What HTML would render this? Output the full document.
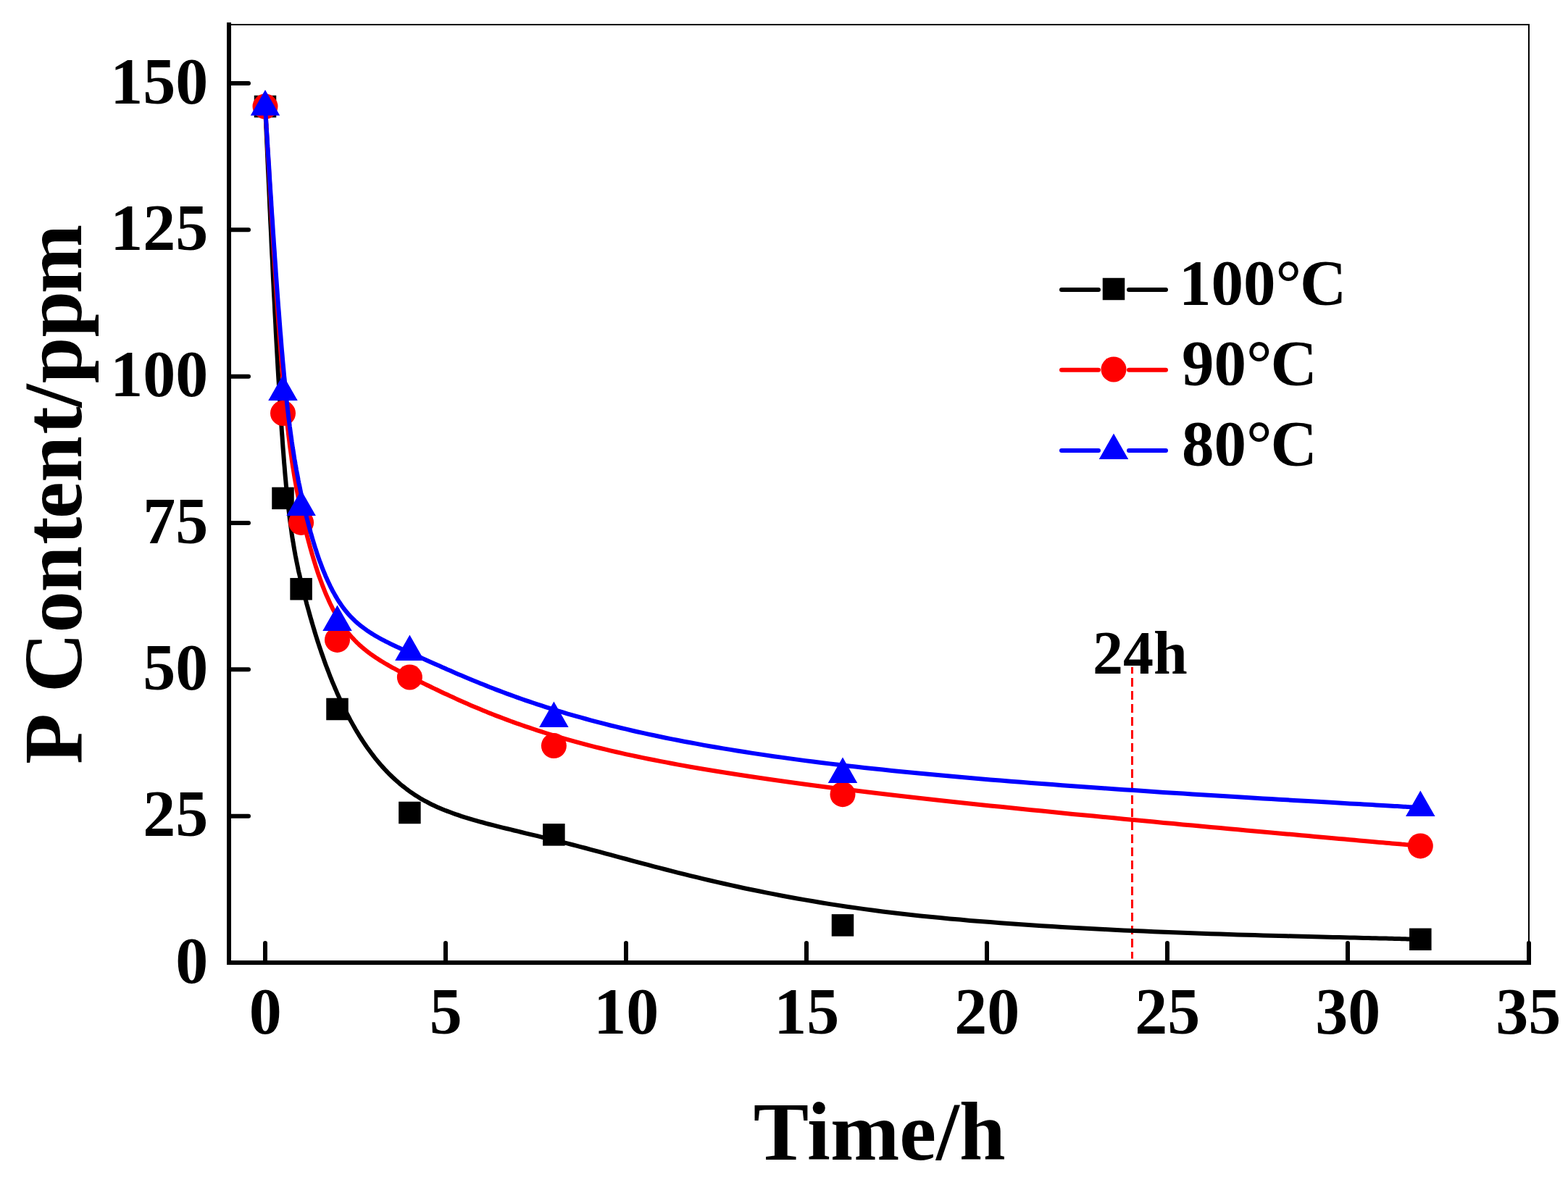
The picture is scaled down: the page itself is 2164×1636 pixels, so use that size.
<!DOCTYPE html>
<html lang="en"><head><meta charset="utf-8"><title>P Content vs Time</title>
<style>html,body{margin:0;padding:0;background:#fff;overflow:hidden;}svg{display:block;}text{font-family:"Liberation Serif",serif;font-weight:bold;fill:#000;}</style>
</head><body>
<svg width="2164" height="1636" viewBox="0 0 2164 1636">
<rect x="0" y="0" width="2164" height="1636" fill="#fff"/>
<g stroke="#000" stroke-width="2" fill="none" shape-rendering="crispEdges">
<line x1="316" y1="34" x2="2111" y2="34"/>
<line x1="2110" y1="34" x2="2110" y2="1329"/>
</g>
<line x1="1562.5" y1="921" x2="1562.5" y2="1323.5" stroke="#f00" stroke-width="3" stroke-dasharray="12 6" stroke-dashoffset="3"/>
<g fill="none" stroke-width="6" stroke-linejoin="round" stroke-linecap="round">
<path d="M366.0 147.0 L366.0 147.0 L366.0 147.0 L366.0 147.0 L366.0 147.1 L366.0 147.1 L366.0 147.2 L366.0 147.3 L366.0 147.5 L366.0 147.7 L366.0 147.9 L366.1 148.2 L366.1 148.5 L366.1 149.0 L366.1 149.5 L366.1 150.0 L366.2 150.7 L366.2 151.4 L366.2 152.2 L366.3 153.1 L366.3 154.1 L366.4 155.3 L366.4 156.5 L366.5 157.9 L366.6 159.4 L366.6 161.0 L366.7 162.7 L366.8 164.6 L366.9 166.6 L367.0 168.8 L367.1 171.1 L367.2 173.6 L367.3 176.3 L367.5 179.1 L367.6 182.1 L367.7 185.3 L367.9 188.7 L368.0 192.3 L368.2 196.0 L368.4 200.0 L368.6 204.2 L368.8 208.6 L369.0 213.2 L369.2 218.0 L369.4 223.1 L369.7 228.4 L369.9 234.0 L370.2 239.8 L370.5 245.8 L370.8 252.1 L371.1 258.6 L371.4 265.3 L371.7 272.2 L372.0 279.3 L372.3 286.7 L372.7 294.2 L373.0 301.8 L373.4 309.6 L373.8 317.6 L374.2 325.7 L374.5 334.0 L374.9 342.3 L375.3 350.8 L375.8 359.4 L376.2 368.1 L376.6 376.8 L377.0 385.7 L377.5 394.6 L377.9 403.5 L378.4 412.5 L378.9 421.6 L379.3 430.6 L379.8 439.7 L380.3 448.8 L380.7 457.9 L381.2 467.0 L381.7 476.0 L382.2 485.1 L382.7 494.1 L383.2 503.0 L383.7 511.9 L384.2 520.7 L384.8 529.5 L385.3 538.1 L385.8 546.7 L386.3 555.1 L386.8 563.5 L387.4 571.7 L387.9 579.8 L388.4 587.7 L388.9 595.5 L389.5 603.1 L390.0 610.6 L390.5 617.8 L391.1 624.9 L391.6 631.8 L392.1 638.5 L392.7 645.1 L393.2 651.4 L393.7 657.6 L394.3 663.6 L394.8 669.5 L395.4 675.2 L395.9 680.7 L396.5 686.1 L397.0 691.4 L397.6 696.5 L398.1 701.5 L398.7 706.4 L399.3 711.1 L399.8 715.8 L400.4 720.3 L401.0 724.7 L401.6 728.9 L402.2 733.1 L402.7 737.2 L403.3 741.2 L403.9 745.1 L404.6 748.9 L405.2 752.7 L405.8 756.3 L406.4 759.9 L407.1 763.5 L407.7 767.0 L408.4 770.4 L409.0 773.7 L409.7 777.0 L410.4 780.3 L411.1 783.6 L411.7 786.8 L412.4 789.9 L413.2 793.1 L413.9 796.2 L414.6 799.3 L415.3 802.4 L416.1 805.5 L416.9 808.6 L417.6 811.7 L418.4 814.8 L419.2 817.9 L420.0 821.0 L420.8 824.1 L421.6 827.3 L422.5 830.5 L423.3 833.7 L424.2 836.9 L425.1 840.1 L426.0 843.3 L426.9 846.6 L427.8 849.9 L428.7 853.1 L429.7 856.4 L430.6 859.7 L431.6 863.0 L432.6 866.4 L433.6 869.7 L434.6 873.1 L435.6 876.4 L436.7 879.8 L437.7 883.1 L438.8 886.5 L439.9 889.9 L441.0 893.3 L442.2 896.7 L443.3 900.1 L444.5 903.4 L445.7 906.8 L446.9 910.2 L448.1 913.7 L449.3 917.1 L450.6 920.5 L451.9 923.9 L453.2 927.3 L454.5 930.7 L455.8 934.1 L457.2 937.5 L458.5 940.9 L459.9 944.2 L461.4 947.6 L462.8 951.0 L464.3 954.4 L465.7 957.8 L467.2 961.1 L468.8 964.5 L470.3 967.8 L471.9 971.1 L473.5 974.5 L475.1 977.8 L476.7 981.1 L478.4 984.4 L480.1 987.6 L481.8 990.9 L483.5 994.2 L485.3 997.4 L487.1 1000.6 L488.9 1003.8 L490.7 1007.0 L492.6 1010.1 L494.5 1013.3 L496.4 1016.4 L498.4 1019.5 L500.4 1022.6 L502.4 1025.6 L504.5 1028.7 L506.5 1031.7 L508.6 1034.6 L510.8 1037.6 L513.0 1040.5 L515.2 1043.4 L517.4 1046.3 L519.7 1049.1 L522.0 1051.9 L524.4 1054.7 L526.7 1057.4 L529.2 1060.1 L531.6 1062.7 L534.1 1065.4 L536.6 1068.0 L539.2 1070.5 L541.8 1073.0 L544.5 1075.5 L547.1 1077.9 L549.9 1080.3 L552.6 1082.7 L555.4 1085.0 L558.3 1087.2 L561.2 1089.5 L564.1 1091.6 L567.1 1093.8 L570.1 1095.8 L573.2 1097.9 L576.3 1099.8 L579.4 1101.8 L582.6 1103.6 L585.9 1105.5 L589.2 1107.2 L592.5 1109.0 L595.9 1110.7 L599.3 1112.3 L602.8 1113.9 L606.4 1115.5 L609.9 1117.0 L613.6 1118.5 L617.3 1119.9 L621.1 1121.3 L624.9 1122.7 L628.7 1124.1 L632.7 1125.4 L636.7 1126.8 L640.7 1128.1 L644.8 1129.3 L649.0 1130.6 L653.2 1131.9 L657.6 1133.1 L661.9 1134.3 L666.4 1135.5 L670.9 1136.8 L675.4 1138.0 L680.1 1139.2 L684.8 1140.4 L689.6 1141.6 L694.5 1142.8 L699.4 1144.0 L704.4 1145.2 L709.5 1146.5 L714.6 1147.7 L719.9 1149.0 L725.2 1150.3 L730.6 1151.6 L736.1 1152.9 L741.6 1154.2 L747.3 1155.6 L753.0 1157.0 L758.8 1158.4 L764.7 1159.8 L770.7 1161.3 L776.8 1162.8 L782.9 1164.4 L789.2 1166.0 L795.5 1167.6 L802.0 1169.3 L808.5 1171.0 L815.1 1172.8 L821.8 1174.6 L828.7 1176.4 L835.6 1178.3 L842.6 1180.2 L849.7 1182.1 L857.0 1184.1 L864.3 1186.0 L871.8 1188.1 L879.3 1190.1 L887.0 1192.1 L894.8 1194.2 L902.7 1196.3 L910.8 1198.4 L918.9 1200.5 L927.2 1202.6 L935.7 1204.8 L944.2 1206.9 L952.9 1209.1 L961.7 1211.2 L970.6 1213.4 L979.7 1215.5 L988.9 1217.7 L998.3 1219.8 L1007.8 1221.9 L1017.4 1224.0 L1027.2 1226.2 L1037.2 1228.3 L1047.3 1230.3 L1057.5 1232.4 L1067.9 1234.4 L1078.5 1236.5 L1089.2 1238.5 L1100.1 1240.5 L1111.1 1242.4 L1122.3 1244.3 L1133.7 1246.2 L1145.2 1248.1 L1156.9 1249.9 L1168.8 1251.7 L1180.9 1253.4 L1193.1 1255.1 L1205.5 1256.8 L1218.1 1258.4 L1230.9 1260.0 L1243.8 1261.5 L1257.0 1263.0 L1270.2 1264.4 L1283.7 1265.8 L1297.2 1267.1 L1310.9 1268.4 L1324.7 1269.6 L1338.6 1270.9 L1352.6 1272.0 L1366.7 1273.1 L1380.8 1274.2 L1395.0 1275.3 L1409.2 1276.3 L1423.5 1277.2 L1437.7 1278.2 L1452.0 1279.1 L1466.3 1279.9 L1480.5 1280.7 L1494.7 1281.5 L1508.9 1282.3 L1523.0 1283.0 L1537.1 1283.7 L1551.0 1284.4 L1564.9 1285.0 L1578.7 1285.6 L1592.4 1286.2 L1605.9 1286.8 L1619.3 1287.3 L1632.6 1287.8 L1645.7 1288.3 L1658.6 1288.8 L1671.3 1289.2 L1683.8 1289.6 L1696.2 1290.0 L1708.3 1290.4 L1720.2 1290.7 L1731.8 1291.1 L1743.2 1291.4 L1754.3 1291.7 L1765.1 1292.0 L1775.7 1292.3 L1785.9 1292.5 L1795.8 1292.8 L1805.4 1293.0 L1814.7 1293.3 L1823.6 1293.5 L1832.1 1293.7 L1840.3 1293.9 L1848.1 1294.1 L1855.6 1294.3 L1862.7 1294.4 L1869.5 1294.6 L1876.0 1294.7 L1882.2 1294.9 L1888.0 1295.0 L1893.6 1295.2 L1898.9 1295.3 L1903.8 1295.4 L1908.5 1295.5 L1913.0 1295.6 L1917.1 1295.8 L1921.1 1295.8 L1924.7 1295.9 L1928.2 1296.0 L1931.4 1296.1 L1934.4 1296.2 L1937.2 1296.2 L1939.7 1296.3 L1942.1 1296.4 L1944.3 1296.4 L1946.3 1296.5 L1948.1 1296.5 L1949.8 1296.5 L1951.3 1296.6 L1952.6 1296.6 L1953.8 1296.6 L1954.9 1296.7 L1955.9 1296.7 L1956.7 1296.7 L1957.4 1296.7 L1958.0 1296.7 L1958.5 1296.8 L1959.0 1296.8 L1959.3 1296.8 L1959.6 1296.8 L1959.8 1296.8 L1960.0 1296.8 L1960.1 1296.8 L1960.2 1296.8 L1960.3 1296.8 L1960.3 1296.8 L1960.3 1296.8 L1960.3 1296.8" stroke="#000"/>
<g fill="#000" stroke="none"><rect x="350.75" y="131.75" width="30.5" height="30.5"/><rect x="375.25" y="672.65" width="30.5" height="30.5"/><rect x="400.35" y="797.95" width="30.5" height="30.5"/><rect x="450.25" y="963.75" width="30.5" height="30.5"/><rect x="550.15" y="1106.75" width="30.5" height="30.5"/><rect x="749.15" y="1137.15" width="30.5" height="30.5"/><rect x="1147.75" y="1262.15" width="30.5" height="30.5"/><rect x="1945.05" y="1281.55" width="30.5" height="30.5"/></g>
<path d="M366.0 147.0 L366.0 147.0 L366.0 147.0 L366.0 147.0 L366.0 147.0 L366.0 147.1 L366.0 147.2 L366.0 147.2 L366.0 147.4 L366.0 147.5 L366.0 147.7 L366.1 147.9 L366.1 148.2 L366.1 148.5 L366.1 148.9 L366.1 149.4 L366.2 149.9 L366.2 150.4 L366.2 151.1 L366.3 151.8 L366.3 152.6 L366.4 153.5 L366.4 154.4 L366.5 155.5 L366.6 156.7 L366.6 157.9 L366.7 159.3 L366.8 160.8 L366.9 162.4 L367.0 164.1 L367.1 165.9 L367.2 167.8 L367.3 169.9 L367.5 172.1 L367.6 174.5 L367.7 177.0 L367.9 179.6 L368.0 182.4 L368.2 185.4 L368.4 188.5 L368.6 191.8 L368.8 195.2 L369.0 198.8 L369.2 202.6 L369.4 206.6 L369.7 210.7 L369.9 215.1 L370.2 219.6 L370.5 224.4 L370.8 229.3 L371.1 234.4 L371.4 239.6 L371.7 245.1 L372.0 250.6 L372.3 256.4 L372.7 262.3 L373.0 268.3 L373.4 274.4 L373.8 280.7 L374.2 287.1 L374.5 293.6 L374.9 300.2 L375.3 306.9 L375.8 313.7 L376.2 320.6 L376.6 327.5 L377.0 334.5 L377.5 341.6 L377.9 348.7 L378.4 355.9 L378.9 363.1 L379.3 370.3 L379.8 377.6 L380.3 384.9 L380.7 392.2 L381.2 399.5 L381.7 406.9 L382.2 414.2 L382.7 421.5 L383.2 428.7 L383.7 436.0 L384.2 443.2 L384.8 450.3 L385.3 457.5 L385.8 464.5 L386.3 471.5 L386.8 478.4 L387.4 485.3 L387.9 492.0 L388.4 498.7 L388.9 505.3 L389.5 511.8 L390.0 518.1 L390.5 524.4 L391.1 530.5 L391.6 536.5 L392.1 542.4 L392.7 548.1 L393.2 553.8 L393.7 559.3 L394.3 564.7 L394.8 570.0 L395.4 575.3 L395.9 580.4 L396.5 585.4 L397.0 590.3 L397.6 595.1 L398.1 599.9 L398.7 604.5 L399.3 609.1 L399.8 613.6 L400.4 618.0 L401.0 622.3 L401.6 626.6 L402.2 630.8 L402.7 634.9 L403.3 638.9 L403.9 642.9 L404.6 646.9 L405.2 650.8 L405.8 654.6 L406.4 658.4 L407.1 662.1 L407.7 665.8 L408.4 669.4 L409.0 673.0 L409.7 676.6 L410.4 680.1 L411.1 683.6 L411.7 687.1 L412.4 690.6 L413.2 694.0 L413.9 697.4 L414.6 700.8 L415.3 704.2 L416.1 707.6 L416.9 710.9 L417.6 714.3 L418.4 717.7 L419.2 721.0 L420.0 724.4 L420.8 727.7 L421.6 731.1 L422.5 734.5 L423.3 737.8 L424.2 741.2 L425.1 744.6 L426.0 748.0 L426.9 751.3 L427.8 754.7 L428.7 758.0 L429.7 761.4 L430.6 764.7 L431.6 768.0 L432.6 771.4 L433.6 774.7 L434.6 777.9 L435.6 781.2 L436.7 784.5 L437.7 787.7 L438.8 791.0 L439.9 794.2 L441.0 797.3 L442.2 800.5 L443.3 803.6 L444.5 806.8 L445.7 809.9 L446.9 812.9 L448.1 816.0 L449.3 819.0 L450.6 821.9 L451.9 824.9 L453.2 827.8 L454.5 830.7 L455.8 833.5 L457.2 836.3 L458.5 839.1 L459.9 841.8 L461.4 844.5 L462.8 847.2 L464.3 849.8 L465.7 852.4 L467.2 854.9 L468.8 857.4 L470.3 859.8 L471.9 862.2 L473.5 864.5 L475.1 866.8 L476.7 869.0 L478.4 871.2 L480.1 873.3 L481.8 875.4 L483.5 877.5 L485.3 879.5 L487.1 881.4 L488.9 883.3 L490.7 885.2 L492.6 887.1 L494.5 888.9 L496.4 890.7 L498.4 892.4 L500.4 894.2 L502.4 895.8 L504.5 897.5 L506.5 899.2 L508.6 900.8 L510.8 902.4 L513.0 903.9 L515.2 905.5 L517.4 907.0 L519.7 908.6 L522.0 910.1 L524.4 911.6 L526.7 913.0 L529.2 914.5 L531.6 916.0 L534.1 917.4 L536.6 918.9 L539.2 920.3 L541.8 921.8 L544.5 923.2 L547.1 924.6 L549.9 926.1 L552.6 927.5 L555.4 929.0 L558.3 930.4 L561.2 931.9 L564.1 933.4 L567.1 934.9 L570.1 936.4 L573.2 937.9 L576.3 939.4 L579.4 941.0 L582.6 942.5 L585.9 944.1 L589.2 945.7 L592.5 947.3 L595.9 949.0 L599.3 950.6 L602.8 952.3 L606.4 954.0 L609.9 955.7 L613.6 957.4 L617.3 959.1 L621.1 960.9 L624.9 962.6 L628.7 964.4 L632.7 966.2 L636.7 968.0 L640.7 969.8 L644.8 971.6 L649.0 973.4 L653.2 975.2 L657.6 977.0 L661.9 978.8 L666.4 980.7 L670.9 982.5 L675.4 984.4 L680.1 986.2 L684.8 988.1 L689.6 989.9 L694.5 991.8 L699.4 993.6 L704.4 995.5 L709.5 997.3 L714.6 999.2 L719.9 1001.0 L725.2 1002.9 L730.6 1004.7 L736.1 1006.5 L741.6 1008.4 L747.3 1010.2 L753.0 1012.0 L758.8 1013.8 L764.7 1015.6 L770.7 1017.4 L776.8 1019.2 L782.9 1020.9 L789.2 1022.7 L795.5 1024.4 L802.0 1026.2 L808.5 1027.9 L815.1 1029.6 L821.8 1031.3 L828.7 1033.0 L835.6 1034.7 L842.6 1036.3 L849.7 1038.0 L857.0 1039.6 L864.3 1041.3 L871.8 1042.9 L879.3 1044.5 L887.0 1046.1 L894.8 1047.7 L902.7 1049.3 L910.8 1050.9 L918.9 1052.4 L927.2 1054.0 L935.7 1055.6 L944.2 1057.1 L952.9 1058.7 L961.7 1060.2 L970.6 1061.7 L979.7 1063.3 L988.9 1064.8 L998.3 1066.3 L1007.8 1067.8 L1017.4 1069.3 L1027.2 1070.8 L1037.2 1072.3 L1047.3 1073.8 L1057.5 1075.3 L1067.9 1076.8 L1078.5 1078.3 L1089.2 1079.8 L1100.1 1081.3 L1111.1 1082.7 L1122.3 1084.2 L1133.7 1085.7 L1145.2 1087.2 L1156.9 1088.7 L1168.8 1090.1 L1180.9 1091.6 L1193.1 1093.1 L1205.5 1094.6 L1218.1 1096.1 L1230.9 1097.5 L1243.8 1099.0 L1257.0 1100.5 L1270.2 1102.0 L1283.7 1103.5 L1297.2 1105.0 L1310.9 1106.5 L1324.7 1107.9 L1338.6 1109.4 L1352.6 1110.9 L1366.7 1112.4 L1380.8 1113.8 L1395.0 1115.3 L1409.2 1116.7 L1423.5 1118.2 L1437.7 1119.6 L1452.0 1121.0 L1466.3 1122.5 L1480.5 1123.9 L1494.7 1125.2 L1508.9 1126.6 L1523.0 1128.0 L1537.1 1129.3 L1551.0 1130.7 L1564.9 1132.0 L1578.7 1133.3 L1592.4 1134.6 L1605.9 1135.9 L1619.3 1137.1 L1632.6 1138.4 L1645.7 1139.6 L1658.6 1140.8 L1671.3 1141.9 L1683.8 1143.1 L1696.2 1144.2 L1708.3 1145.3 L1720.2 1146.4 L1731.8 1147.5 L1743.2 1148.5 L1754.3 1149.5 L1765.1 1150.5 L1775.7 1151.4 L1785.9 1152.3 L1795.8 1153.2 L1805.4 1154.1 L1814.7 1154.9 L1823.6 1155.7 L1832.1 1156.5 L1840.3 1157.2 L1848.1 1157.9 L1855.6 1158.5 L1862.7 1159.2 L1869.5 1159.8 L1876.0 1160.4 L1882.2 1160.9 L1888.0 1161.4 L1893.6 1161.9 L1898.9 1162.4 L1903.8 1162.9 L1908.5 1163.3 L1913.0 1163.7 L1917.1 1164.0 L1921.1 1164.4 L1924.7 1164.7 L1928.2 1165.0 L1931.4 1165.3 L1934.4 1165.6 L1937.2 1165.8 L1939.7 1166.1 L1942.1 1166.3 L1944.3 1166.5 L1946.3 1166.6 L1948.1 1166.8 L1949.8 1167.0 L1951.3 1167.1 L1952.6 1167.2 L1953.8 1167.3 L1954.9 1167.4 L1955.9 1167.5 L1956.7 1167.6 L1957.4 1167.6 L1958.0 1167.7 L1958.5 1167.7 L1959.0 1167.8 L1959.3 1167.8 L1959.6 1167.8 L1959.8 1167.9 L1960.0 1167.9 L1960.1 1167.9 L1960.2 1167.9 L1960.3 1167.9 L1960.3 1167.9 L1960.3 1167.9 L1960.3 1167.9" stroke="#f00"/>
<g fill="#f00" stroke="none"><circle cx="366.00" cy="147.00" r="17.5"/><circle cx="390.50" cy="570.50" r="17.5"/><circle cx="415.60" cy="721.40" r="17.5"/><circle cx="465.50" cy="883.40" r="17.5"/><circle cx="565.40" cy="935.00" r="17.5"/><circle cx="764.40" cy="1029.60" r="17.5"/><circle cx="1163.00" cy="1096.70" r="17.5"/><circle cx="1960.30" cy="1167.90" r="17.5"/></g>
<path d="M366.0 147.5 L366.0 147.5 L366.0 147.5 L366.0 147.5 L366.0 147.5 L366.0 147.6 L366.0 147.6 L366.0 147.7 L366.0 147.8 L366.0 148.0 L366.0 148.2 L366.1 148.4 L366.1 148.6 L366.1 148.9 L366.1 149.3 L366.1 149.7 L366.2 150.2 L366.2 150.7 L366.2 151.3 L366.3 152.0 L366.3 152.7 L366.4 153.5 L366.4 154.4 L366.5 155.4 L366.6 156.5 L366.6 157.7 L366.7 158.9 L366.8 160.3 L366.9 161.8 L367.0 163.4 L367.1 165.1 L367.2 166.9 L367.3 168.8 L367.5 170.9 L367.6 173.1 L367.7 175.4 L367.9 177.8 L368.0 180.4 L368.2 183.2 L368.4 186.1 L368.6 189.1 L368.8 192.3 L369.0 195.7 L369.2 199.2 L369.4 202.9 L369.7 206.7 L369.9 210.8 L370.2 215.0 L370.5 219.4 L370.8 224.0 L371.1 228.7 L371.4 233.6 L371.7 238.6 L372.0 243.8 L372.3 249.2 L372.7 254.6 L373.0 260.2 L373.4 266.0 L373.8 271.8 L374.2 277.8 L374.5 283.8 L374.9 290.0 L375.3 296.2 L375.8 302.6 L376.2 309.0 L376.6 315.4 L377.0 322.0 L377.5 328.6 L377.9 335.3 L378.4 342.0 L378.9 348.7 L379.3 355.5 L379.8 362.3 L380.3 369.2 L380.7 376.0 L381.2 382.9 L381.7 389.8 L382.2 396.7 L382.7 403.5 L383.2 410.4 L383.7 417.2 L384.2 424.0 L384.8 430.8 L385.3 437.5 L385.8 444.2 L386.3 450.8 L386.8 457.4 L387.4 463.9 L387.9 470.4 L388.4 476.7 L388.9 483.0 L389.5 489.2 L390.0 495.3 L390.5 501.3 L391.1 507.2 L391.6 513.0 L392.1 518.7 L392.7 524.2 L393.2 529.7 L393.7 535.1 L394.3 540.4 L394.8 545.6 L395.4 550.7 L395.9 555.7 L396.5 560.6 L397.0 565.5 L397.6 570.3 L398.1 575.0 L398.7 579.6 L399.3 584.1 L399.8 588.6 L400.4 593.0 L401.0 597.3 L401.6 601.6 L402.2 605.8 L402.7 609.9 L403.3 614.0 L403.9 618.1 L404.6 622.1 L405.2 626.0 L405.8 629.9 L406.4 633.7 L407.1 637.5 L407.7 641.3 L408.4 645.0 L409.0 648.7 L409.7 652.3 L410.4 655.9 L411.1 659.5 L411.7 663.1 L412.4 666.6 L413.2 670.1 L413.9 673.6 L414.6 677.1 L415.3 680.5 L416.1 684.0 L416.9 687.4 L417.6 690.8 L418.4 694.2 L419.2 697.7 L420.0 701.1 L420.8 704.5 L421.6 707.9 L422.5 711.3 L423.3 714.7 L424.2 718.1 L425.1 721.5 L426.0 724.9 L426.9 728.3 L427.8 731.6 L428.7 735.0 L429.7 738.3 L430.6 741.7 L431.6 745.0 L432.6 748.3 L433.6 751.6 L434.6 754.8 L435.6 758.1 L436.7 761.3 L437.7 764.5 L438.8 767.7 L439.9 770.9 L441.0 774.0 L442.2 777.1 L443.3 780.2 L444.5 783.3 L445.7 786.3 L446.9 789.3 L448.1 792.2 L449.3 795.2 L450.6 798.1 L451.9 800.9 L453.2 803.7 L454.5 806.5 L455.8 809.3 L457.2 812.0 L458.5 814.6 L459.9 817.3 L461.4 819.8 L462.8 822.4 L464.3 824.9 L465.7 827.3 L467.2 829.7 L468.8 832.0 L470.3 834.3 L471.9 836.6 L473.5 838.8 L475.1 840.9 L476.7 843.0 L478.4 845.0 L480.1 847.0 L481.8 848.9 L483.5 850.8 L485.3 852.6 L487.1 854.4 L488.9 856.2 L490.7 857.9 L492.6 859.6 L494.5 861.2 L496.4 862.8 L498.4 864.4 L500.4 865.9 L502.4 867.4 L504.5 868.9 L506.5 870.4 L508.6 871.8 L510.8 873.2 L513.0 874.6 L515.2 876.0 L517.4 877.3 L519.7 878.7 L522.0 880.0 L524.4 881.3 L526.7 882.6 L529.2 883.9 L531.6 885.2 L534.1 886.4 L536.6 887.7 L539.2 889.0 L541.8 890.2 L544.5 891.5 L547.1 892.8 L549.9 894.0 L552.6 895.3 L555.4 896.6 L558.3 897.9 L561.2 899.2 L564.1 900.5 L567.1 901.8 L570.1 903.2 L573.2 904.5 L576.3 905.9 L579.4 907.3 L582.6 908.8 L585.9 910.2 L589.2 911.7 L592.5 913.2 L595.9 914.7 L599.3 916.2 L602.8 917.8 L606.4 919.3 L609.9 920.9 L613.6 922.5 L617.3 924.2 L621.1 925.8 L624.9 927.5 L628.7 929.2 L632.7 930.9 L636.7 932.6 L640.7 934.3 L644.8 936.0 L649.0 937.8 L653.2 939.5 L657.6 941.3 L661.9 943.1 L666.4 944.8 L670.9 946.6 L675.4 948.5 L680.1 950.3 L684.8 952.1 L689.6 953.9 L694.5 955.7 L699.4 957.6 L704.4 959.4 L709.5 961.3 L714.6 963.1 L719.9 965.0 L725.2 966.8 L730.6 968.7 L736.1 970.5 L741.6 972.4 L747.3 974.2 L753.0 976.1 L758.8 977.9 L764.7 979.8 L770.7 981.6 L776.8 983.4 L782.9 985.3 L789.2 987.1 L795.5 988.9 L802.0 990.7 L808.5 992.5 L815.1 994.3 L821.8 996.1 L828.7 997.9 L835.6 999.7 L842.6 1001.5 L849.7 1003.2 L857.0 1005.0 L864.3 1006.7 L871.8 1008.5 L879.3 1010.2 L887.0 1011.9 L894.8 1013.6 L902.7 1015.3 L910.8 1017.0 L918.9 1018.7 L927.2 1020.4 L935.7 1022.0 L944.2 1023.7 L952.9 1025.3 L961.7 1026.9 L970.6 1028.6 L979.7 1030.2 L988.9 1031.8 L998.3 1033.4 L1007.8 1034.9 L1017.4 1036.5 L1027.2 1038.0 L1037.2 1039.6 L1047.3 1041.1 L1057.5 1042.6 L1067.9 1044.2 L1078.5 1045.6 L1089.2 1047.1 L1100.1 1048.6 L1111.1 1050.1 L1122.3 1051.5 L1133.7 1052.9 L1145.2 1054.4 L1156.9 1055.8 L1168.8 1057.2 L1180.9 1058.5 L1193.1 1059.9 L1205.5 1061.3 L1218.1 1062.6 L1230.9 1063.9 L1243.8 1065.2 L1257.0 1066.5 L1270.2 1067.8 L1283.7 1069.1 L1297.2 1070.3 L1310.9 1071.6 L1324.7 1072.8 L1338.6 1074.0 L1352.6 1075.2 L1366.7 1076.4 L1380.8 1077.5 L1395.0 1078.7 L1409.2 1079.8 L1423.5 1080.9 L1437.7 1082.0 L1452.0 1083.1 L1466.3 1084.2 L1480.5 1085.2 L1494.7 1086.2 L1508.9 1087.3 L1523.0 1088.3 L1537.1 1089.2 L1551.0 1090.2 L1564.9 1091.1 L1578.7 1092.1 L1592.4 1093.0 L1605.9 1093.9 L1619.3 1094.7 L1632.6 1095.6 L1645.7 1096.4 L1658.6 1097.2 L1671.3 1098.0 L1683.8 1098.8 L1696.2 1099.6 L1708.3 1100.3 L1720.2 1101.0 L1731.8 1101.7 L1743.2 1102.4 L1754.3 1103.1 L1765.1 1103.7 L1775.7 1104.3 L1785.9 1104.9 L1795.8 1105.5 L1805.4 1106.0 L1814.7 1106.6 L1823.6 1107.1 L1832.1 1107.6 L1840.3 1108.1 L1848.1 1108.5 L1855.6 1108.9 L1862.7 1109.4 L1869.5 1109.8 L1876.0 1110.1 L1882.2 1110.5 L1888.0 1110.8 L1893.6 1111.1 L1898.9 1111.4 L1903.8 1111.7 L1908.5 1112.0 L1913.0 1112.3 L1917.1 1112.5 L1921.1 1112.7 L1924.7 1112.9 L1928.2 1113.1 L1931.4 1113.3 L1934.4 1113.5 L1937.2 1113.7 L1939.7 1113.8 L1942.1 1113.9 L1944.3 1114.1 L1946.3 1114.2 L1948.1 1114.3 L1949.8 1114.4 L1951.3 1114.5 L1952.6 1114.6 L1953.8 1114.6 L1954.9 1114.7 L1955.9 1114.7 L1956.7 1114.8 L1957.4 1114.8 L1958.0 1114.9 L1958.5 1114.9 L1959.0 1114.9 L1959.3 1114.9 L1959.6 1115.0 L1959.8 1115.0 L1960.0 1115.0 L1960.1 1115.0 L1960.2 1115.0 L1960.3 1115.0 L1960.3 1115.0 L1960.3 1115.0 L1960.3 1115.0" stroke="#00f"/>
<g fill="#00f" stroke="none"><polygon points="366.00,124.00 345.75,159.50 386.25,159.50"/><polygon points="390.50,517.60 370.25,553.10 410.75,553.10"/><polygon points="415.60,676.40 395.35,711.90 435.85,711.90"/><polygon points="465.50,835.40 445.25,870.90 485.75,870.90"/><polygon points="565.40,876.40 545.15,911.90 585.65,911.90"/><polygon points="764.40,968.60 744.15,1004.10 784.65,1004.10"/><polygon points="1163.00,1045.40 1142.75,1080.90 1183.25,1080.90"/><polygon points="1960.30,1091.50 1940.05,1127.00 1980.55,1127.00"/></g>
</g>
<g stroke="#000" stroke-width="6" fill="none" stroke-linecap="butt">
<line x1="316" y1="31" x2="316" y2="1332"/>
<line x1="313" y1="1329" x2="2113" y2="1329"/>
</g>
<g stroke="#000" stroke-width="6" fill="none" stroke-linecap="round">
<line x1="366.00" y1="1329" x2="366.00" y2="1302"/>
<line x1="615.00" y1="1329" x2="615.00" y2="1302"/>
<line x1="864.00" y1="1329" x2="864.00" y2="1302"/>
<line x1="1113.00" y1="1329" x2="1113.00" y2="1302"/>
<line x1="1362.00" y1="1329" x2="1362.00" y2="1302"/>
<line x1="1611.00" y1="1329" x2="1611.00" y2="1302"/>
<line x1="1860.00" y1="1329" x2="1860.00" y2="1302"/>
<line x1="2110.00" y1="1329" x2="2110.00" y2="1302"/>
<line x1="316" y1="1126.67" x2="343" y2="1126.67"/>
<line x1="316" y1="924.34" x2="343" y2="924.34"/>
<line x1="316" y1="722.00" x2="343" y2="722.00"/>
<line x1="316" y1="519.67" x2="343" y2="519.67"/>
<line x1="316" y1="317.34" x2="343" y2="317.34"/>
<line x1="316" y1="115.01" x2="343" y2="115.01"/>
</g>
<g font-size="90">
<text x="366.30" y="1426.8" text-anchor="middle">0</text>
<text x="615.30" y="1426.8" text-anchor="middle">5</text>
<text x="864.30" y="1426.8" text-anchor="middle">10</text>
<text x="1113.30" y="1426.8" text-anchor="middle">15</text>
<text x="1362.30" y="1426.8" text-anchor="middle">20</text>
<text x="1611.30" y="1426.8" text-anchor="middle">25</text>
<text x="1860.30" y="1426.8" text-anchor="middle">30</text>
<text x="2109.30" y="1426.8" text-anchor="middle">35</text>
<text x="287.2" y="1356.50" text-anchor="end">0</text>
<text x="287.2" y="1154.17" text-anchor="end">25</text>
<text x="287.2" y="951.84" text-anchor="end">50</text>
<text x="287.2" y="749.50" text-anchor="end">75</text>
<text x="287.2" y="547.17" text-anchor="end">100</text>
<text x="287.2" y="344.84" text-anchor="end">125</text>
<text x="287.2" y="142.51" text-anchor="end">150</text>
</g>
<text x="1213.7" y="1600.5" font-size="114.5" text-anchor="middle">Time/h</text>
<text transform="translate(112 680.525) rotate(-90)" font-size="114.5" text-anchor="middle" dx="-1.85 3.35 3.30 -0.25 -1.25 2.10 -2.35 -0.65 2.55 -0.70 1.05 0.15 -3.50">P Content/ppm</text>
<text x="1508" y="930" font-size="84">24h</text>
<g stroke="#000" stroke-width="6" stroke-linecap="round"><line x1="1465" y1="400" x2="1516" y2="400"/><line x1="1558" y1="400" x2="1609" y2="400"/></g>
<g fill="#000"><rect x="1521.75" y="383.75" width="30.5" height="30.5"/></g>
<text x="1627" y="420.2" font-size="89">100°<tspan dx="-2">C</tspan></text>
<g stroke="#f00" stroke-width="6" stroke-linecap="round"><line x1="1465" y1="510.7" x2="1516" y2="510.7"/><line x1="1558" y1="510.7" x2="1609" y2="510.7"/></g>
<g fill="#f00"><circle cx="1537.00" cy="510.00" r="17.5"/></g>
<text x="1631" y="531.2" font-size="89">90°<tspan dx="-2">C</tspan></text>
<g stroke="#00f" stroke-width="6" stroke-linecap="round"><line x1="1465" y1="622" x2="1516" y2="622"/><line x1="1558" y1="622" x2="1609" y2="622"/></g>
<g fill="#00f"><polygon points="1537.00,598.50 1516.75,634.00 1557.25,634.00"/></g>
<text x="1631" y="642.3" font-size="89">80°<tspan dx="-2">C</tspan></text>
</svg>
</body></html>
